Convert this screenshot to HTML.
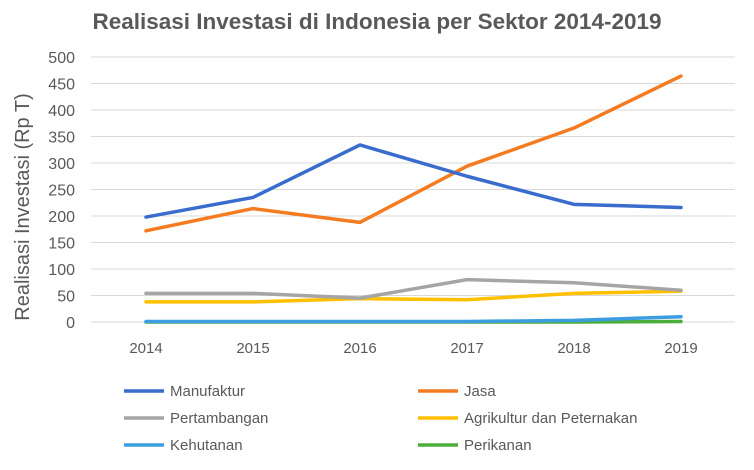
<!DOCTYPE html>
<html><head><meta charset="utf-8"><style>
body{margin:0;background:#fff;width:754px;height:465px;overflow:hidden;font-family:"Liberation Sans",sans-serif}
</style></head><body>
<svg id="c" width="754" height="465" xmlns="http://www.w3.org/2000/svg">
<text x="377" y="29" text-anchor="middle" font-size="22.5" font-weight="bold" fill="#595959">Realisasi Investasi di Indonesia per Sektor 2014-2019</text>
<text transform="translate(29,207) rotate(-90)" text-anchor="middle" font-size="20" fill="#595959">Realisasi Investasi (Rp T)</text>
<g id="grid"></g><g id="lines"></g><g id="legend"></g>
</svg>
<script>
const years=["2014","2015","2016","2017","2018","2019"];
const yTicks=[0,50,100,150,200,250,300,350,400,450,500];
const names=["Manufaktur","Jasa","Pertambangan","Agrikultur dan Peternakan","Kehutanan","Perikanan"];
const manufaktur=[198,235,334,275,222,216];
const jasa=[172,214,188,294,366,464];
const pertambangan=[54,54,45,80,74,60];
const agrikultur=[38,38,44,42,54,58];
const kehutanan=[1,1,1,1,3,10];
const perikanan=[0,0,0,0,0,1];
const series=[manufaktur,jasa,pertambangan,agrikultur,kehutanan,perikanan];
const colors=["#3a6ccd","#f47b20","#a5a5a5","#fec000","#3d9de0","#4cae3a"];
const NS="http://www.w3.org/2000/svg";
const y=v=>322-v*(265/500);
const x=i=>146+i*107;
function mk(t,a,p){const e=document.createElementNS(NS,t);for(const k in a)e.setAttribute(k,a[k]);p.appendChild(e);return e;}
const g=document.getElementById('grid');
yTicks.forEach(t=>{
 const l=mk('line',{x1:91,x2:735,y1:y(t),y2:y(t),stroke:'#d9d9d9','stroke-width':1},g);
 
 
 const tx=mk('text',{x:75,y:y(t)+6,'text-anchor':'end','font-size':16,fill:'#595959'},g);
 tx.textContent=t;
 
 
});
years.forEach((yr,i)=>{
 const tx=mk('text',{x:x(i),y:353,'text-anchor':'middle','font-size':15,fill:'#595959'},g);
 tx.textContent=yr;
 
 
});
const L=document.getElementById('lines');
for(let s=series.length-1;s>=0;s--){
 const p=mk('polyline',{points:series[s].map((v,i)=>x(i)+','+y(v)).join(' '),fill:'none',stroke:colors[s],'stroke-width':3.5,'stroke-linejoin':'round','stroke-linecap':'round'},L);
 
 
}
const Lg=document.getElementById('legend');
names.forEach((n,i)=>{
 const cx=i%2?418:124, cy=391+Math.floor(i/2)*27;
 const gg=mk('g',{},Lg);
 
 
 mk('line',{x1:cx,x2:cx+40,y1:cy,y2:cy,stroke:colors[i],'stroke-width':3.5},gg);
 const t=mk('text',{x:cx+46,y:cy+5,'font-size':15,fill:'#595959'},gg);
 t.textContent=n;
});
</script>
</body></html>
